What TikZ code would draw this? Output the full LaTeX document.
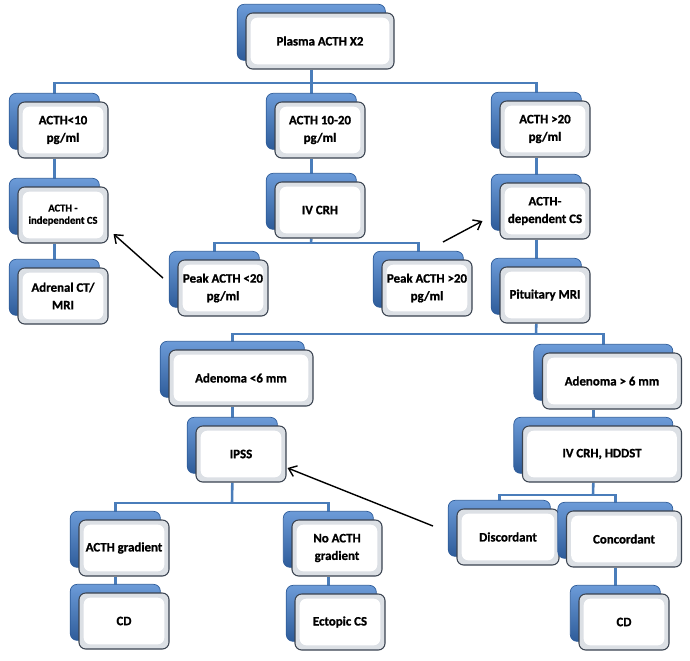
\documentclass[tikz,border=0pt]{standalone}
\usepackage{fontspec}
\setmainfont{Carlito}[BoldFeatures={FakeBold=1}]
\usepackage{tikz}
\usetikzlibrary{arrows.meta, shadows, backgrounds}
\definecolor{linkblue}{HTML}{4A7DBA}
\definecolor{backtop}{HTML}{6C9BD8}
\definecolor{backbot}{HTML}{2E5C9A}
\definecolor{frontrim}{HTML}{3A4350}
\definecolor{bevel}{HTML}{DCE0E5}

\begin{document}
\begin{tikzpicture}[x=0.3mm, y=-0.3mm]
\tikzset{box/.style = {shape=rectangle, rounded corners=2mm, draw=frontrim, line width=0.9pt, fill=bevel,
    minimum width=27mm, minimum height=16.8mm, align=center, font=\bfseries\fontsize{11}{15}\selectfont,
    general shadow={shadow xshift=-2.6mm, shadow yshift=2.6mm, path picture={}, top color=backtop, bottom color=backbot, draw=backbot, line width=0.6pt},
    path picture={\fill[white] ([shift={(4pt,-4pt)}]path picture bounding box.north west) rectangle ([shift={(-4pt,4pt)}]path picture bounding box.south east);}},
  link/.style = {draw=linkblue, line width=2.2pt},
  hint/.style = {draw=black, line width=1.2pt, -{Straight Barb[length=2.2mm,width=3.4mm]}}}
\useasboundingbox (0,0) rectangle (690,660);
% boxes
\node[box, minimum width=44.4mm] (plasma) at (320,41) {Plasma ACTH X2};
\node[box] (low) at (63,130) {ACTH<10\\pg/ml};
\node[box] (mid) at (320,130) {ACTH 10-20\\pg/ml};
\node[box] (high) at (545,129) {ACTH >20\\pg/ml};
\node[box, font=\bfseries\fontsize{9}{10.5}\selectfont] (indep) at (63,215) {ACTH -\\independent CS};
\node[box] (ivcrh) at (320,210) {IV CRH};
\node[box] (dep) at (545,211) {ACTH-\\dependent CS};
\node[box] (adrenal) at (63,296) {Adrenal CT/\\MRI};
\node[box] (peaklow) at (223,288) {Peak ACTH <20\\pg/ml};
\node[box] (peakhigh) at (427,288) {Peak ACTH >20\\pg/ml};
\node[box] (mri) at (545,295) {Pituitary MRI};
\node[box, minimum width=43.2mm] (small) at (241,378) {Adenoma <6 mm};
\node[box, minimum width=41.7mm] (large) at (612,381) {Adenoma > 6 mm};
\node[box] (ipss) at (241,454) {IPSS};
\node[box, minimum width=47.7mm] (hddst) at (602,454) {IV CRH, HDDST};
\node[box] (grad) at (124,548) {ACTH gradient};
\node[box] (nograd) at (337,548) {No ACTH\\gradient};
\node[box, minimum width=30.6mm] (disc) at (508,537) {Discordant};
\node[box, minimum width=34.5mm] (conc) at (624,539) {Concordant};
\node[box] (cdleft) at (124,621) {CD};
\node[box] (ectopic) at (340,622) {Ectopic CS};
\node[box] (cdright) at (624,622) {CD};

% links
\begin{scope}[on background layer]
\coordinate (bus1) at (311,83);
\coordinate (bus2) at (311,243);
\coordinate (bus3) at (536,334);
\coordinate (bus4) at (232,503);
\coordinate (bus5) at (593,495);
\draw[link] ([xshift=-2.6mm]plasma.south) -- ([xshift=-2.6mm]mid.north);
\draw[link] ([xshift=-2.6mm]low.north) |- (bus1) -| ([xshift=-2.6mm]high.north);
\draw[link] ([xshift=-2.6mm]low.south) -- ([xshift=-2.6mm]indep.north);
\draw[link] ([xshift=-2.6mm]indep.south) -- ([xshift=-2.6mm]adrenal.north);
\draw[link] ([xshift=-2.6mm]mid.south) -- ([xshift=-2.6mm]ivcrh.north);
\draw[link] ([xshift=-2.6mm]ivcrh.south) -- (bus2);
\draw[link] ([xshift=-2.6mm]peaklow.north) |- (bus2) -| ([xshift=-2.6mm]peakhigh.north);
\draw[link] ([xshift=-2.6mm]high.south) -- ([xshift=-2.6mm]dep.north);
\draw[link] ([xshift=-2.6mm]dep.south) -- ([xshift=-2.6mm]mri.north);
\draw[link] ([xshift=-2.6mm]mri.south) -- (bus3);
\draw[link] ([xshift=-2.6mm]small.north) |- (bus3) -| ([xshift=-2.6mm]large.north);
\draw[link] ([xshift=-2.6mm]small.south) -- ([xshift=-2.6mm]ipss.north);
\draw[link] ([xshift=-2.6mm]ipss.south) -- (bus4);
\draw[link] ([xshift=-2.6mm]grad.north) |- (bus4) -| ([xshift=-2.6mm]nograd.north);
\draw[link] ([xshift=-2.6mm]grad.south) -- ([xshift=-2.6mm]cdleft.north);
\draw[link] ([xshift=-2.6mm]nograd.south) -- ([xshift=-2.6mm]nograd.south |- ectopic.north);
\draw[link] ([xshift=-2.6mm]hddst.north) -- ([xshift=-2.6mm]hddst.north |- large.south);
\draw[link] ([xshift=-2.6mm]hddst.south) -- (bus5);
\draw[link] ([xshift=-2.6mm]disc.north) |- (bus5) -| ([xshift=-2.6mm]conc.north);
\draw[link] ([xshift=-2.6mm]conc.south) -- ([xshift=-2.6mm]cdright.north);
\end{scope}

% hints
\coordinate (from1) at (163,278);
\coordinate (from2) at (443,242);
\coordinate (from3) at (433,526);
\draw[hint] (from1) -- ([shift={(5,19)}]indep.east);
\draw[hint] (from2) -- ([shift={(-17,10)}]dep.west);
\draw[hint] (from3) -- ([shift={(1,14)}]ipss.east);
\end{tikzpicture}
\end{document}
